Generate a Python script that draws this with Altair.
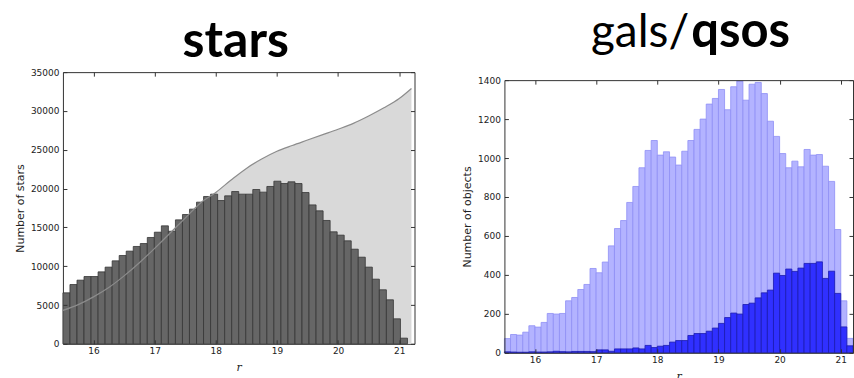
import altair as alt
import pandas as pd

# ---------------- data ----------------
x_ticks = [16, 17, 18, 19, 20, 21]

# left panel: stars (bin grid start / width)
star_lo = 15.5
star_w = 0.115
star_counts = [6570, 7640, 8200, 8670, 8670, 9270, 9880, 10690, 11380, 11940,
               12540, 12920, 13700, 14380, 15200, 14500, 15970, 16660, 17350, 18250,
               18980, 19280, 18460, 19060, 19620, 19280, 19280, 19880, 19540, 20270,
               20950, 20650, 20870, 20650, 19490, 17900, 17130, 15890, 14430, 14000,
               13270, 12190, 11160, 9880, 8330, 6960, 5670, 3220, 730]
curve_r = [15.5, 15.75, 16.0, 16.25, 16.5, 16.75, 17.0, 17.25, 17.5, 17.75, 18.0,
           18.25, 18.5, 18.75, 19.0, 19.25, 19.5, 19.75, 20.0, 20.25, 20.5, 20.75,
           21.0, 21.2]
curve_n = [4300, 5050, 6050, 7250, 8750, 10450, 12300, 14250, 16200, 18150, 19500,
           21100, 22600, 23800, 24800, 25550, 26250, 26950, 27650, 28400, 29350,
           30400, 31600, 32900]
star_y_ticks = [0, 5000, 10000, 15000, 20000, 25000, 30000, 35000]

# right panel: galaxies / quasars
obj_lo = 15.5
obj_w = 0.1
gal_counts = [73, 94, 91, 106, 139, 132, 156, 202, 199, 202,
              267, 284, 325, 351, 433, 411, 466, 549, 638, 679,
              772, 854, 950, 1039, 1090, 1015, 1032, 1005, 964, 1035,
              1090, 1147, 1200, 1277, 1306, 1352, 1248, 1366, 1395, 1297,
              1379, 1388, 1331, 1189, 1111, 1023, 950, 984, 955, 1044,
              1015, 1018, 958, 880, 633, 267, 74]
qso_counts = [5, 4, 3, 3, 5, 4, 4, 5, 8, 6,
              5, 7, 7, 7, 6, 15, 15, 8, 20, 20,
              20, 25, 20, 38, 27, 34, 38, 55, 63, 63,
              89, 99, 99, 111, 127, 151, 181, 204, 199, 248,
              255, 282, 308, 322, 409, 397, 430, 418, 435, 459,
              459, 467, 382, 419, 305, 133, 36]
obj_y_ticks = [0, 200, 400, 600, 800, 1000, 1200, 1400]

title_left = ["stars"]
title_right_regular = ["gals/"]
title_right_bold = ["qsos"]

# ---------------- tables ----------------
stars_df = pd.DataFrame({
    "lo": [round(star_lo + i * star_w, 4) for i in range(len(star_counts))],
    "n": star_counts,
})
stars_df["hi"] = stars_df["lo"] + star_w
curve_df = pd.DataFrame({"r": curve_r, "n": curve_n})

obj_df = pd.DataFrame({
    "lo": [round(obj_lo + i * obj_w, 4) for i in range(len(gal_counts))],
    "gals": gal_counts,
    "qsos": qso_counts,
})
obj_df["hi"] = obj_df["lo"] + obj_w

one_row = pd.DataFrame({"s": [0]})

FRAME = "#333333"
TICK = 4


# ---------------- axis helpers ----------------
def labelled_x():
    return alt.Axis(orient="bottom", values=x_ticks, format="d", offset=-TICK,
                    tickSize=TICK, domain=False, grid=False, labelPadding=3,
                    labelFlush=False, title="r", titleFont="DejaVu Serif",
                    titleFontStyle="italic", titleFontWeight="normal",
                    titleFontSize=11, titlePadding=6, zindex=1)


def labelled_y(vals, text):
    return alt.Axis(orient="left", values=vals, format="d", offset=-TICK,
                    tickSize=TICK, domain=False, grid=False, labelPadding=4,
                    title=text, titleFontSize=11, titleFontWeight="normal",
                    titlePadding=5, zindex=1)


def tick_axis(orient, vals, off):
    return alt.Axis(orient=orient, values=vals, offset=off, tickSize=TICK,
                    domain=False, grid=False, labels=False, title=None, zindex=1)


def frame_axis(orient, off):
    return alt.Axis(orient=orient, offset=off, domain=True, domainColor=FRAME,
                    domainWidth=1, ticks=False, labels=False, grid=False,
                    title=None, zindex=1)


# ---------------- left panel ----------------
xs1 = alt.Scale(domain=[15.5, 21.25], nice=False, zero=False)
ys1 = alt.Scale(domain=[0, 35000], nice=False)

area = alt.Chart(curve_df).mark_area(color="#d9d9d9", interpolate="monotone").encode(
    x=alt.X("r:Q", scale=xs1, axis=labelled_x()),
    y=alt.Y("n:Q", scale=ys1, axis=labelled_y(star_y_ticks, "Number of stars")),
)
star_bars = alt.Chart(stars_df).mark_bar(fill="#666666", stroke="#363636", strokeWidth=0.8).encode(
    x=alt.X("lo:Q", scale=xs1, axis=tick_axis("top", x_ticks, -TICK)),
    x2="hi:Q",
    y=alt.Y("n:Q", scale=ys1, axis=tick_axis("right", star_y_ticks, -TICK)),
    y2=alt.datum(0),
)
curve = alt.Chart(curve_df).mark_line(color="#8c8c8c", strokeWidth=1.2, interpolate="monotone").encode(
    x=alt.X("r:Q", scale=xs1, axis=None),
    y=alt.Y("n:Q", scale=ys1, axis=None),
)
left_title = alt.Chart(pd.DataFrame({"t": title_left})).mark_text(
    font="Lato", fontSize=50, fontWeight="bold", align="center", baseline="alphabetic", color="black"
).encode(text="t:N", x=alt.value(173), y=alt.value(-15))
left_spacer = alt.Chart(one_row).mark_rule(opacity=0, strokeWidth=1).encode(
    x=alt.value(-62.5), x2=alt.value(-61.5), y=alt.value(-71.5)
)
left = alt.layer(area, star_bars, curve, left_title, left_spacer).resolve_axis(
    x="independent", y="independent"
).properties(width=352, height=272, view=alt.ViewBackground(stroke=FRAME, strokeWidth=1))

# ---------------- right panel ----------------
# view is 8px taller than the framed plot; the plot occupies y = 8 .. 281
RH = 281
RTOP = 8
xs2 = alt.Scale(domain=[15.5, 21.2], nice=False, zero=False)
ys2 = alt.Scale(domain=[0, 1400], nice=False, range=[RH, RTOP])

gal_bars = alt.Chart(obj_df).mark_bar(fill="#b3b3ff", stroke="#8f8ff5", strokeWidth=0.8).encode(
    x=alt.X("lo:Q", scale=xs2, axis=labelled_x()),
    x2="hi:Q",
    y=alt.Y("gals:Q", scale=ys2, axis=labelled_y(obj_y_ticks, "Number of objects")),
    y2=alt.datum(0),
)
qso_bars = alt.Chart(obj_df).mark_bar(fill="#3030ff", stroke="#1c1cb0", strokeWidth=0.8).encode(
    x=alt.X("lo:Q", scale=xs2, axis=tick_axis("top", x_ticks, -(RTOP + TICK))),
    x2="hi:Q",
    y=alt.Y("qsos:Q", scale=ys2, axis=tick_axis("right", obj_y_ticks, -TICK)),
    y2=alt.datum(0),
)
frame_a = alt.Chart(obj_df).mark_point(opacity=0, size=1).encode(
    x=alt.X("lo:Q", scale=xs2, axis=frame_axis("bottom", 0)),
    y=alt.Y("gals:Q", scale=ys2, axis=frame_axis("left", 0)),
)
frame_b = alt.Chart(obj_df).mark_point(opacity=0, size=1).encode(
    x=alt.X("lo:Q", scale=xs2, axis=frame_axis("top", -RTOP)),
    y=alt.Y("gals:Q", scale=ys2, axis=frame_axis("right", 0)),
)
right_title_a = alt.Chart(pd.DataFrame({"t": title_right_regular})).mark_text(
    font="Lato", fontSize=46, fontWeight="normal", align="right", baseline="alphabetic", color="black"
).encode(text="t:N", x=alt.value(185), y=alt.value(-25))
right_title_b = alt.Chart(pd.DataFrame({"t": title_right_bold})).mark_text(
    font="Lato", fontSize=49, fontWeight="bold", align="left", baseline="alphabetic", color="black"
).encode(text="t:N", x=alt.value(187), y=alt.value(-25))
right_spacer = alt.Chart(one_row).mark_rule(opacity=0, strokeWidth=1).encode(
    x=alt.value(-50), x2=alt.value(-49), y=alt.value(-71.5)
)
right = alt.layer(gal_bars, qso_bars, frame_a, frame_b, right_title_a, right_title_b,
                  right_spacer).resolve_axis(
    x="independent", y="independent"
).properties(width=349, height=RH, view=alt.ViewBackground(stroke="transparent"))

chart = alt.concat(left, right, columns=2).properties(
    bounds="full", spacing=38,
    padding={"left": 0, "top": 0, "right": 0, "bottom": 0},
    background="white",
).configure_axis(
    labelFont="DejaVu Sans", labelFontSize=9, labelColor="#222222",
    tickColor=FRAME, tickWidth=1, titleFont="DejaVu Sans", titleColor="#222222",
)

chart.save("out.html", embed_options={"renderer": "svg", "actions": False})
